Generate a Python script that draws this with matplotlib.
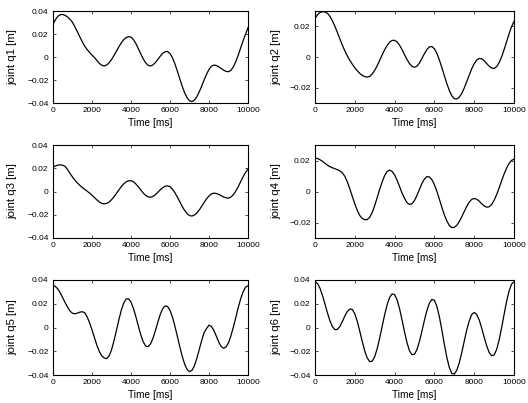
import matplotlib
matplotlib.use("Agg")
import matplotlib.pyplot as plt

plt.rcParams['font.family'] = ['Liberation Sans', 'DejaVu Sans']

time_ms = list(range(0, 10001, 125))

q1 = [0.0284, 0.0325, 0.0354, 0.0368, 0.0370, 0.0362, 0.0347, 0.0328,
      0.0301, 0.0262, 0.0220, 0.0175, 0.0132, 0.0095, 0.0065, 0.0040,
      0.0017, -0.0005, -0.0030, -0.0055, -0.0072, -0.0078, -0.0070, -0.0051,
      -0.0023, 0.0012, 0.0050, 0.0088, 0.0122, 0.0150, 0.0169, 0.0177,
      0.0172, 0.0151, 0.0117, 0.0073, 0.0027, -0.0016, -0.0050, -0.0072,
      -0.0078, -0.0069, -0.0049, -0.0021, 0.0007, 0.0032, 0.0046, 0.0048,
      0.0030, -0.0006, -0.0059, -0.0121, -0.0189, -0.0254, -0.0311, -0.0354,
      -0.0381, -0.0387, -0.0375, -0.0346, -0.0303, -0.0253, -0.0199, -0.0150,
      -0.0108, -0.0080, -0.0070, -0.0074, -0.0085, -0.0100, -0.0114, -0.0125,
      -0.0128, -0.0116, -0.0085, -0.0040, 0.0017, 0.0079, 0.0142, 0.0199,
      0.0255]
q2 = [0.0252, 0.0275, 0.0290, 0.0295, 0.0294, 0.0285, 0.0265, 0.0236,
      0.0200, 0.0160, 0.0118, 0.0077, 0.0040, 0.0007, -0.0022, -0.0047,
      -0.0070, -0.0090, -0.0107, -0.0120, -0.0128, -0.0131, -0.0126, -0.0111,
      -0.0087, -0.0057, -0.0022, 0.0014, 0.0047, 0.0076, 0.0097, 0.0108,
      0.0109, 0.0098, 0.0077, 0.0048, 0.0015, -0.0017, -0.0043, -0.0061,
      -0.0067, -0.0060, -0.0039, -0.0009, 0.0022, 0.0049, 0.0066, 0.0068,
      0.0054, 0.0024, -0.0019, -0.0069, -0.0122, -0.0174, -0.0219, -0.0253,
      -0.0272, -0.0274, -0.0262, -0.0237, -0.0202, -0.0161, -0.0118, -0.0077,
      -0.0043, -0.0020, -0.0009, -0.0012, -0.0024, -0.0042, -0.0060, -0.0072,
      -0.0075, -0.0063, -0.0037, 0.0000, 0.0047, 0.0098, 0.0150, 0.0197,
      0.0232]
q3 = [0.0209, 0.0220, 0.0227, 0.0229, 0.0226, 0.0215, 0.0188, 0.0155,
      0.0125, 0.0098, 0.0074, 0.0053, 0.0035, 0.0019, 0.0003, -0.0014,
      -0.0032, -0.0052, -0.0072, -0.0090, -0.0102, -0.0106, -0.0103, -0.0091,
      -0.0071, -0.0046, -0.0017, 0.0013, 0.0041, 0.0065, 0.0083, 0.0092,
      0.0093, 0.0084, 0.0065, 0.0041, 0.0014, -0.0013, -0.0033, -0.0046,
      -0.0049, -0.0042, -0.0027, -0.0007, 0.0015, 0.0033, 0.0045, 0.0049,
      0.0041, 0.0021, -0.0010, -0.0047, -0.0088, -0.0128, -0.0163, -0.0190,
      -0.0207, -0.0211, -0.0203, -0.0185, -0.0159, -0.0127, -0.0094, -0.0063,
      -0.0038, -0.0020, -0.0014, -0.0017, -0.0025, -0.0036, -0.0047, -0.0055,
      -0.0057, -0.0048, -0.0027, 0.0004, 0.0042, 0.0085, 0.0127, 0.0164,
      0.0192]
q4 = [0.0216, 0.0213, 0.0205, 0.0195, 0.0182, 0.0170, 0.0160, 0.0153,
      0.0147, 0.0141, 0.0133, 0.0120, 0.0098, 0.0062, 0.0017, -0.0032,
      -0.0080, -0.0122, -0.0155, -0.0174, -0.0182, -0.0181, -0.0166, -0.0135,
      -0.0091, -0.0039, 0.0014, 0.0062, 0.0103, 0.0129, 0.0138, 0.0130,
      0.0107, 0.0073, 0.0032, -0.0010, -0.0045, -0.0072, -0.0084, -0.0079,
      -0.0058, -0.0024, 0.0014, 0.0052, 0.0081, 0.0096, 0.0094, 0.0076,
      0.0044, 0.0001, -0.0050, -0.0102, -0.0151, -0.0190, -0.0219, -0.0233,
      -0.0231, -0.0218, -0.0194, -0.0163, -0.0129, -0.0096, -0.0069, -0.0051,
      -0.0045, -0.0050, -0.0062, -0.0079, -0.0093, -0.0101, -0.0099, -0.0084,
      -0.0057, -0.0021, 0.0022, 0.0068, 0.0112, 0.0150, 0.0181, 0.0201,
      0.0208]
q5 = [0.0352, 0.0345, 0.0324, 0.0290, 0.0250, 0.0208, 0.0170, 0.0138,
      0.0120, 0.0115, 0.0121, 0.0129, 0.0133, 0.0125, 0.0090, 0.0040,
      -0.0020, -0.0085, -0.0150, -0.0202, -0.0238, -0.0257, -0.0262, -0.0240,
      -0.0189, -0.0113, -0.0027, 0.0063, 0.0144, 0.0205, 0.0240, 0.0242,
      0.0214, 0.0161, 0.0091, 0.0013, -0.0061, -0.0120, -0.0155, -0.0162,
      -0.0139, -0.0092, -0.0027, 0.0044, 0.0110, 0.0158, 0.0182, 0.0177,
      0.0144, 0.0088, 0.0012, -0.0073, -0.0161, -0.0241, -0.0308, -0.0353,
      -0.0372, -0.0361, -0.0323, -0.0260, -0.0185, -0.0109, -0.0043, -0.0008,
      0.0020, 0.0009, -0.0025, -0.0073, -0.0123, -0.0160, -0.0175, -0.0164,
      -0.0128, -0.0070, 0.0004, 0.0085, 0.0168, 0.0242, 0.0301, 0.0339,
      0.0352]
q6 = [0.0385, 0.0371, 0.0331, 0.0270, 0.0198, 0.0123, 0.0057, 0.0007,
      -0.0018, -0.0016, 0.0009, 0.0050, 0.0097, 0.0135, 0.0156, 0.0152,
      0.0115, 0.0051, -0.0031, -0.0118, -0.0198, -0.0257, -0.0287, -0.0284,
      -0.0246, -0.0178, -0.0090, 0.0010, 0.0107, 0.0192, 0.0253, 0.0283,
      0.0277, 0.0233, 0.0158, 0.0063, -0.0038, -0.0129, -0.0197, -0.0229,
      -0.0225, -0.0185, -0.0116, -0.0030, 0.0062, 0.0144, 0.0207, 0.0236,
      0.0229, 0.0178, 0.0091, -0.0021, -0.0141, -0.0252, -0.0337, -0.0387,
      -0.0392, -0.0360, -0.0297, -0.0211, -0.0115, -0.0021, 0.0055, 0.0109,
      0.0127, 0.0110, 0.0064, -0.0004, -0.0081, -0.0153, -0.0210, -0.0238,
      -0.0232, -0.0186, -0.0107, -0.0004, 0.0108, 0.0217, 0.0306, 0.0365,
      0.0385]

series = [q1, q2, q3, q4, q5, q6]
ylabels = ["joint q1 [m]", "joint q2 [m]", "joint q3 [m]",
           "joint q4 [m]", "joint q5 [m]", "joint q6 [m]"]
xticks = [0, 2000, 4000, 6000, 8000, 10000]
xticklabels = ["0", "2000", "4000", "6000", "8000", "10000"]
yticks_wide = [-0.04, -0.02, 0, 0.02, 0.04]
yticklabels_wide = ["\u22120.04", "\u22120.02", "0", "0.02", "0.04"]
yticks_narrow = [-0.02, 0, 0.02]
yticklabels_narrow = ["\u22120.02", "0", "0.02"]
ylims = [0.04, 0.03, 0.04, 0.03, 0.04, 0.04]

W, H = 528, 403
fig = plt.figure(figsize=(W / 100, H / 100), dpi=100)

cols = [(53, 248), (315, 514)]
rows = [(11, 103), (145, 238), (280, 375)]
ylab_off = [-36.0, -33.5]

fs_tick = 6.0
fs_xlab = 7.3
fs_ylab = 8.2
for i, (vals, lab, lim) in enumerate(zip(series, ylabels, ylims)):
    r, c = divmod(i, 2)
    x0, x1 = cols[c]
    y0, y1 = rows[r]
    aw, ah = x1 - x0, y1 - y0
    ax = fig.add_axes([x0 / W, 1 - y1 / H, aw / W, ah / H])
    ax.plot(time_ms, vals, color="black", linewidth=0.9)
    ax.set_xlim(0, 10000)
    ax.set_ylim(-lim, lim)
    ax.set_xticks(xticks)
    ax.set_xticklabels(xticklabels, fontsize=fs_tick)
    if lim == 0.04:
        ax.set_yticks(yticks_wide)
        ax.set_yticklabels(yticklabels_wide, fontsize=fs_tick)
    else:
        ax.set_yticks(yticks_narrow)
        ax.set_yticklabels(yticklabels_narrow, fontsize=fs_tick)
    ax.tick_params(direction="in", length=2.5, width=0.5, top=True, right=True,
                   pad=3.2)
    for s in ax.spines.values():
        s.set_linewidth(0.8)
    ax.set_xlabel("Time [ms]", fontsize=fs_xlab)
    ax.set_ylabel(lab, fontsize=fs_ylab)
    ax.xaxis.set_label_coords(0.5, -15.0 / ah)
    ax.yaxis.set_label_coords(ylab_off[c] / aw, 0.5)

fig.savefig("out.png", dpi=100)
